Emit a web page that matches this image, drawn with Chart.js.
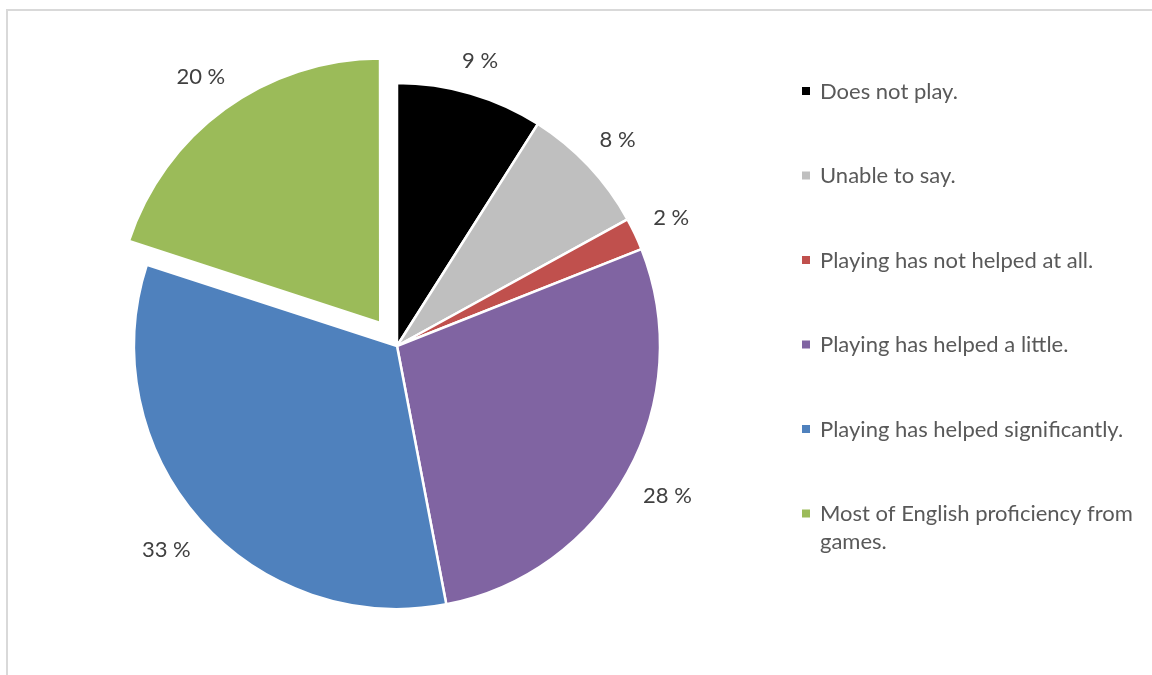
<!DOCTYPE html>
<html>
<head>
<meta charset="utf-8">
<title>Games and English proficiency</title>
<script src="https://cdn.jsdelivr.net/npm/chart.js@4.4.1/dist/chart.umd.min.js"></script>
<style>
  html, body { margin: 0; padding: 0; background: #ffffff; }
  #wrap { position: relative; width: 1152px; height: 675px; }
</style>
</head>
<body>
<div id="wrap"><canvas id="myChart" width="1152" height="675"></canvas></div>
<script>
// answers, in the order the slices go round from 12 o'clock
const categories = [
  "Does not play.",
  "Unable to say.",
  "Playing has not helped at all.",
  "Playing has helped a little.",
  "Playing has helped significantly.",
  "Most of English proficiency from games."
];
const shares = [9, 8, 2, 28, 33, 20]; // percent
const sliceColors = ["#000000", "#bfbfbf", "#c0504d", "#8064a2", "#4f81bd", "#9bbb59"];

const FONT = "22px Lato";

// light grey frame round the chart box
const framePlugin = {
  id: "frame",
  beforeDraw(chart) {
    const ctx = chart.ctx;
    ctx.save();
    ctx.strokeStyle = "#d9d9d9";
    ctx.lineWidth = 2;
    ctx.strokeRect(7, 10, 1170, 700);
    ctx.restore();
  }
};

// "xx %" labels just outside each slice
const pctLabels = {
  id: "pctLabels",
  afterDatasetsDraw(chart) {
    const ctx = chart.ctx;
    const meta = chart.getDatasetMeta(0);
    const ds = chart.data.datasets[0];
    ctx.save();
    ctx.font = FONT;
    ctx.fillStyle = "#404040";
    ctx.textAlign = "center";
    ctx.textBaseline = "middle";
    meta.data.forEach((arc, i) => {
      const p = arc.getProps(["x", "y", "startAngle", "endAngle", "outerRadius"], true);
      const mid = (p.startAngle + p.endAngle) / 2;
      const shift = (ds.offset[i] || 0) / 4; // arc element moves by offset/4
      const text = shares[i] + " %";
      const w = ctx.measureText(text).width;
      const h = 22;
      const cx = Math.cos(mid), sy = Math.sin(mid);
      const dist = p.outerRadius + shift + 19 + (w / 2) * Math.abs(cx) + (h / 2) * Math.abs(sy);
      ctx.fillText(text, p.x + cx * dist, p.y + sy * dist + 1);
    });
    ctx.restore();
  }
};

function wrapText(ctx, text, maxWidth) {
  const words = text.split(" ");
  const lines = [];
  let line = "";
  words.forEach(wd => {
    const test = line ? line + " " + wd : wd;
    if (line && ctx.measureText(test).width > maxWidth) {
      lines.push(line);
      line = wd;
    } else {
      line = test;
    }
  });
  if (line) lines.push(line);
  return lines;
}

// legend on the right, wraps long names
const sideLegend = {
  id: "sideLegend",
  afterDraw(chart) {
    const ctx = chart.ctx;
    ctx.save();
    ctx.font = FONT;
    ctx.textBaseline = "alphabetic";
    ctx.textAlign = "left";
    categories.forEach((name, i) => {
      const rowY = 91 + i * 84.5;
      ctx.fillStyle = sliceColors[i];
      ctx.fillRect(802, rowY - 4, 8, 8);
      ctx.fillStyle = "#595959";
      wrapText(ctx, name, 322).forEach((line, k) => {
        ctx.fillText(line, 820, rowY + 7.5 + k * 28);
      });
    });
    ctx.restore();
  }
};

const config = {
  type: "pie",
  data: {
    labels: categories,
    datasets: [{
      data: shares,
      backgroundColor: sliceColors,
      borderColor: "#ffffff",
      borderWidth: 2.5,
      offset: [0, 0, 0, 0, 0, 114] // last slice pulled out
    }]
  },
  options: {
    responsive: false,
    animation: false,
    events: [],
    radius: 263,
    layout: { padding: { left: 0, right: 358, top: 17, bottom: 0 } },
    plugins: {
      legend: { display: false },
      tooltip: { enabled: false }
    }
  },
  plugins: [framePlugin, pctLabels, sideLegend]
};

let context = document.getElementById("myChart").getContext("2d");
let chart = new Chart(context, config);
</script>
</body>
</html>
